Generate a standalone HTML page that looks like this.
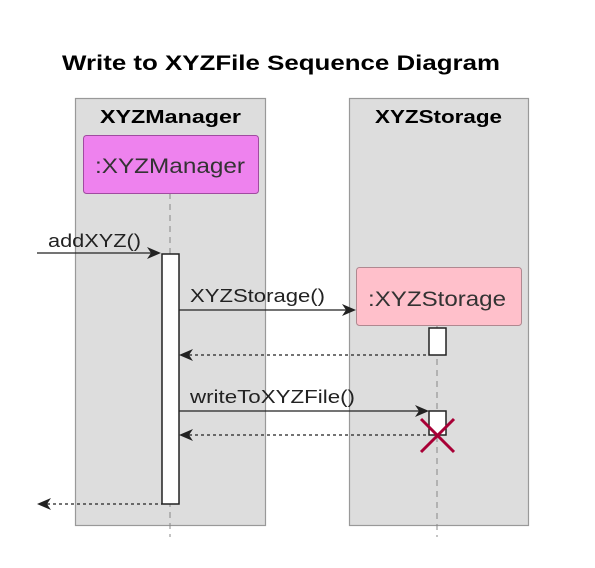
<!DOCTYPE html>
<html><head><style>body{margin:0;background:#fff}svg{display:block}</style></head><body>
<svg width="595" height="568" xmlns="http://www.w3.org/2000/svg" font-family="Liberation Sans, sans-serif">
<text x="62" y="70" font-size="21" font-weight="bold" fill="#000" textLength="438" lengthAdjust="spacingAndGlyphs">Write to XYZFile Sequence Diagram</text>
<rect x="75.5" y="98.5" width="190" height="427" fill="#DDDDDD" stroke="#999" stroke-width="1.2"/>
<rect x="349.5" y="98.5" width="179" height="427" fill="#DDDDDD" stroke="#999" stroke-width="1.2"/>
<text x="100" y="123" font-size="18" font-weight="bold" textLength="141" lengthAdjust="spacingAndGlyphs">XYZManager</text>
<text x="375" y="123" font-size="18" font-weight="bold" textLength="127" lengthAdjust="spacingAndGlyphs">XYZStorage</text>
<line x1="170" y1="193" x2="170" y2="537" stroke="#888" stroke-dasharray="6,5"/>
<line x1="437" y1="326" x2="437" y2="537" stroke="#888" stroke-dasharray="6,5"/>
<rect x="83.5" y="135.5" width="175" height="58" rx="3" fill="#EE82EE" stroke="#A04BA0"/>
<text x="95" y="173" font-size="21" fill="#333" textLength="150" lengthAdjust="spacingAndGlyphs">:XYZManager</text>
<rect x="356.5" y="267.5" width="165" height="58" rx="3" fill="#FFC0CB" stroke="#B08890"/>
<text x="368" y="306" font-size="21" fill="#333" textLength="138" lengthAdjust="spacingAndGlyphs">:XYZStorage</text>
<rect x="162" y="254" width="17" height="250" fill="#fff" stroke="#222" stroke-width="1.5"/>
<rect x="429" y="328" width="17" height="27" fill="#fff" stroke="#222" stroke-width="1.5"/>
<rect x="429" y="411" width="17" height="24" fill="#fff" stroke="#222" stroke-width="1.5"/>
<g stroke="#222" stroke-width="1.3" fill="none">
<line x1="37" y1="253" x2="158" y2="253"/>
<line x1="179" y1="310" x2="352" y2="310"/>
<line x1="183" y1="355" x2="429" y2="355" stroke-dasharray="3,3"/>
<line x1="179" y1="411" x2="425" y2="411"/>
<line x1="183" y1="435" x2="429" y2="435" stroke-dasharray="3,3"/>
<line x1="41" y1="504" x2="162" y2="504" stroke-dasharray="3,3"/>
</g>
<g fill="#222">
<polygon points="147,247 161,253 147,259 151,253"/>
<polygon points="342,304 356,310 342,316 346,310"/>
<polygon points="193,349 179,355 193,361 189,355"/>
<polygon points="415,405 429,411 415,417 419,411"/>
<polygon points="193,429 179,435 193,441 189,435"/>
<polygon points="51,498 37,504 51,510 47,504"/>
</g>
<g font-size="18" fill="#222">
<text x="48" y="247" textLength="93" lengthAdjust="spacingAndGlyphs">addXYZ()</text>
<text x="190" y="302" textLength="135" lengthAdjust="spacingAndGlyphs">XYZStorage()</text>
<text x="190" y="403" textLength="165" lengthAdjust="spacingAndGlyphs">writeToXYZFile()</text>
</g>
<g stroke="#A80036" stroke-width="3">
<line x1="421" y1="419" x2="454" y2="452"/>
<line x1="454" y1="419" x2="421" y2="452"/>
</g>
</svg>
</body></html>
